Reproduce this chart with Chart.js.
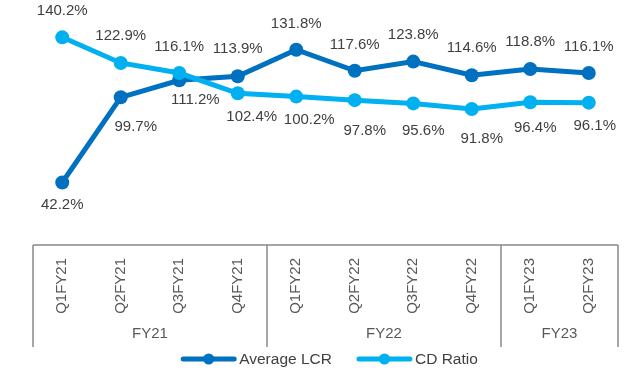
<!DOCTYPE html>
<html>
<head>
<meta charset="utf-8">
<script src="https://cdn.jsdelivr.net/npm/chart.js@4.4.1/dist/chart.umd.min.js"></script>
<style>
  html, body { margin: 0; padding: 0; background: #fff; }
  #wrap { width: 631px; height: 371px; position: relative; }
</style>
</head>
<body>
<div id="wrap"><canvas id="lcrChart"></canvas></div>
<script>
// Quarterly liquidity figures (%)
const quarters = ["Q1FY21", "Q2FY21", "Q3FY21", "Q4FY21", "Q1FY22", "Q2FY22", "Q3FY22", "Q4FY22", "Q1FY23", "Q2FY23"];
const avgLcr = [42.2, 99.7, 111.2, 113.9, 131.8, 117.6, 123.8, 114.6, 118.8, 116.1];
const cdRatio = [140.2, 122.9, 116.1, 102.4, 100.2, 97.8, 95.6, 91.8, 96.4, 96.1];

// Where each value label sits relative to its point: [dx, dy] in px
const lcrLabelNudge = [[0, 22], [15, 30], [16, 20], [0, -27], [0, -26], [0, -26], [0, -27], [0, -27], [0, -27], [0, -26]];
const cdLabelNudge = [[0, -26], [0, -27], [0, -26], [14, 24], [13, 23], [10, 31], [10, 27], [10, 30], [5, 26], [6, 23]];

const FONT = "'Liberation Sans', Arial, sans-serif";
const LCR_COLOR = "#0070C0";
const CD_COLOR = "#00B0F0";
const AXIS_COLOR = "#898989";

// Value labels next to each point
const valueLabels = {
  id: "valueLabels",
  afterDatasetsDraw(chart) {
    const ctx = chart.ctx;
    const nudges = [lcrLabelNudge, cdLabelNudge];
    ctx.save();
    ctx.font = "15px " + FONT;
    ctx.fillStyle = "#404040";
    ctx.textAlign = "center";
    ctx.textBaseline = "middle";
    chart.data.datasets.forEach((ds, i) => {
      chart.getDatasetMeta(i).data.forEach((pt, j) => {
        const [dx, dy] = nudges[i][j];
        ctx.fillText(ds.data[j].toFixed(1) + "%", pt.x + dx, pt.y + dy);
      });
    });
    ctx.restore();
  }
};

// Grouped category axis (quarters under fiscal years) and legend
const groupedAxis = {
  id: "groupedAxis",
  afterDraw(chart) {
    const ctx = chart.ctx;
    const area = chart.chartArea;
    const xs = chart.scales.x;
    const top = area.bottom;
    const bottom = top + 102;
    const band = (area.right - area.left) / quarters.length;

    ctx.save();
    ctx.strokeStyle = AXIS_COLOR;
    ctx.lineWidth = 1.5;
    ctx.beginPath();
    ctx.moveTo(area.left, top);
    ctx.lineTo(area.right, top);
    ctx.stroke();

    // quarter labels, rotated
    ctx.font = "15px " + FONT;
    ctx.fillStyle = "#595959";
    quarters.forEach((q, i) => {
      const x = xs.getPixelForValue(i);
      ctx.save();
      ctx.translate(x, top + 13);
      ctx.rotate(-Math.PI / 2);
      ctx.textAlign = "right";
      ctx.textBaseline = "middle";
      ctx.fillText(q, 0, 0);
      ctx.restore();
    });

    // fiscal year groups
    const groups = [];
    quarters.forEach((q, i) => {
      const fy = q.slice(2);
      const last = groups[groups.length - 1];
      if (last && last.name === fy) last.end = i;
      else groups.push({ name: fy, start: i, end: i });
    });
    ctx.textAlign = "center";
    ctx.textBaseline = "middle";
    ctx.beginPath();
    ctx.moveTo(area.left, top);
    ctx.lineTo(area.left, bottom);
    groups.forEach(g => {
      const x0 = xs.getPixelForValue(g.start) - band / 2;
      const x1 = xs.getPixelForValue(g.end) + band / 2;
      ctx.moveTo(x1, top);
      ctx.lineTo(x1, bottom);
      ctx.fillText(g.name, (x0 + x1) / 2, top + 89);
    });
    ctx.stroke();

    // legend
    const items = chart.data.datasets.map(ds => ({ label: ds.label, color: ds.borderColor }));
    ctx.font = "15.5px " + FONT;
    const lineLen = 55, gap = 3, spacing = 25;
    const widths = items.map(it => lineLen + gap + ctx.measureText(it.label).width);
    const total = widths.reduce((a, b) => a + b, 0) + spacing * (items.length - 1);
    let x = (area.left + area.right) / 2 + 4 - total / 2;
    const y = 359;
    ctx.textAlign = "left";
    ctx.fillStyle = "#404040";
    items.forEach((it, i) => {
      ctx.strokeStyle = it.color;
      ctx.lineWidth = 5;
      ctx.lineCap = "round";
      ctx.beginPath();
      ctx.moveTo(x + 2, y);
      ctx.lineTo(x + lineLen - 2, y);
      ctx.stroke();
      ctx.fillStyle = it.color;
      ctx.beginPath();
      ctx.arc(x + lineLen / 2, y, 5.5, 0, Math.PI * 2);
      ctx.fill();
      ctx.fillStyle = "#404040";
      ctx.fillText(it.label, x + lineLen + gap, y + 1);
      x += widths[i] + spacing;
    });
    ctx.restore();
  }
};

new Chart(document.getElementById("lcrChart"), {
  type: "line",
  data: {
    labels: quarters,
    datasets: [
      {
        label: "Average LCR",
        data: avgLcr,
        borderColor: LCR_COLOR,
        backgroundColor: LCR_COLOR,
        borderWidth: 5,
        pointRadius: 7,
        pointBorderWidth: 0,
        order: 1,
      },
      {
        label: "CD Ratio",
        data: cdRatio,
        borderColor: CD_COLOR,
        backgroundColor: CD_COLOR,
        borderWidth: 5,
        pointRadius: 7,
        pointBorderWidth: 0,
        order: 0,
      },
    ],
  },
  options: {
    responsive: true,
    maintainAspectRatio: false,
    animation: false,
    layout: { padding: { left: 33, right: 13, top: 8, bottom: 126 } },
    plugins: { legend: { display: false }, tooltip: { enabled: false } },
    scales: {
      x: { display: false, offset: true },
      y: { display: false, min: 0, max: 160 },
    },
  },
  plugins: [valueLabels, groupedAxis],
});
</script>
</body>
</html>
